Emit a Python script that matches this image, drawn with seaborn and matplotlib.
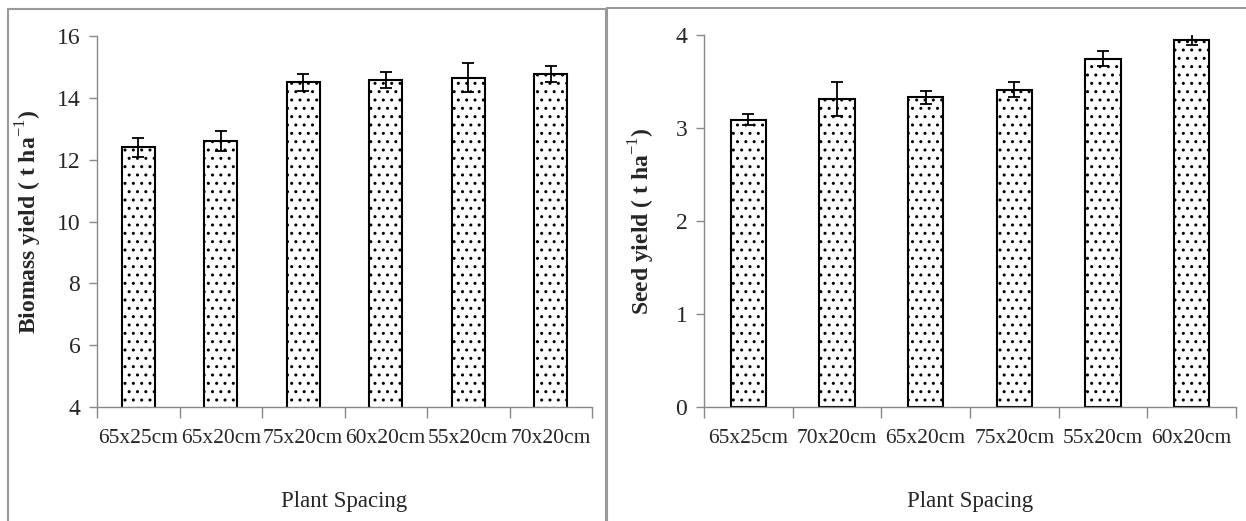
import matplotlib
matplotlib.use("Agg")
import matplotlib.pyplot as plt
from matplotlib.lines import Line2D
from matplotlib.ticker import FixedLocator, NullFormatter
import seaborn as sns
import pandas as pd

# ---- data ----
bio_cats = ["65x25cm", "65x20cm", "75x20cm", "60x20cm", "55x20cm", "70x20cm"]
bio_vals = [12.4, 12.6, 14.5, 14.58, 14.65, 14.77]
bio_err = [0.30, 0.32, 0.27, 0.27, 0.47, 0.27]

seed_cats = ["65x25cm", "70x20cm", "65x20cm", "75x20cm", "55x20cm", "60x20cm"]
seed_vals = [3.09, 3.31, 3.33, 3.41, 3.745, 3.95]
seed_err = [0.06, 0.18, 0.07, 0.08, 0.08, 0.06]

sns.set_style("white")
plt.rcParams["font.family"] = ["Liberation Serif", "DejaVu Serif"]
plt.rcParams["mathtext.fontset"] = "custom"
plt.rcParams["mathtext.rm"] = "Liberation Serif"
plt.rcParams["mathtext.bf"] = "Liberation Serif:bold"
plt.rcParams["hatch.color"] = "#666666"
plt.rcParams["hatch.linewidth"] = 1.0

W, H = 1246, 521
fig = plt.figure(figsize=(W / 100, H / 100), dpi=100)

def px_axes(x0, x1, ytop, ybot):
    return fig.add_axes([x0 / W, 1 - ybot / H, (x1 - x0) / W, (ybot - ytop) / H])

def draw(ax, cats, vals, errs, ylim, yticks, ylabel, ylpad):
    df = pd.DataFrame({"cat": cats, "val": vals})
    sns.barplot(data=df, x="cat", y="val", ax=ax, color="white", width=0.4,
                edgecolor="black", linewidth=1.5, hatch="..", errorbar=None,
                saturation=1)
    ax.errorbar(range(len(cats)), vals, yerr=errs, fmt="none", ecolor="black",
                elinewidth=1.3, capsize=4, capthick=1.3)
    ax.set_xlim(-0.5, len(cats) - 0.5)
    ax.set_ylim(*ylim)
    ax.set_yticks(yticks)
    ax.set_yticklabels([str(t) for t in yticks], fontsize=17)
    # Excel-style category ticks between bars
    ax.xaxis.set_major_locator(FixedLocator([i - 0.5 for i in range(len(cats) + 1)]))
    ax.xaxis.set_major_formatter(NullFormatter())
    ax.xaxis.set_minor_locator(FixedLocator(list(range(len(cats)))))
    ax.set_xticklabels(cats, minor=True, fontsize=15.5)
    ax.tick_params(axis="x", which="major", direction="out", length=8, width=1,
                   color="#888888", bottom=True)
    ax.tick_params(axis="x", which="minor", length=0, pad=16)
    ax.tick_params(axis="y", direction="out", length=6, width=1, color="#888888",
                   left=True, pad=6)
    for s in ["top", "right"]:
        ax.spines[s].set_visible(False)
    for s in ["left", "bottom"]:
        ax.spines[s].set_color("#888888")
        ax.spines[s].set_linewidth(1)
    ax.set_xlabel("Plant Spacing", fontsize=16.5, labelpad=31)
    ax.set_ylabel(ylabel, fontsize=17, fontweight="bold", labelpad=ylpad)

ax1 = px_axes(97, 592, 36, 407)
draw(ax1, bio_cats, bio_vals, bio_err, (4, 16), [4, 6, 8, 10, 12, 14, 16],
     r"Biomass yield ( t ha$^{\mathrm{-1}}$)", 9)

ax2 = px_axes(704, 1236, 35, 407)
draw(ax2, seed_cats, seed_vals, seed_err, (0, 4), [0, 1, 2, 3, 4],
     r"Seed yield ( t ha$^{\mathrm{-1}}$)", 13)

# panel frames
def fline(xs, ys):
    fig.add_artist(Line2D([x / W for x in xs], [1 - y / H for y in ys],
                          transform=fig.transFigure, color="#999999", lw=1.5))

fline([8, 606, 606], [9, 9, 525])
fline([8, 8], [9, 525])
fline([607, 1246], [8, 8])
fline([607, 607], [8, 525])

fig.savefig("out.png", dpi=100)
